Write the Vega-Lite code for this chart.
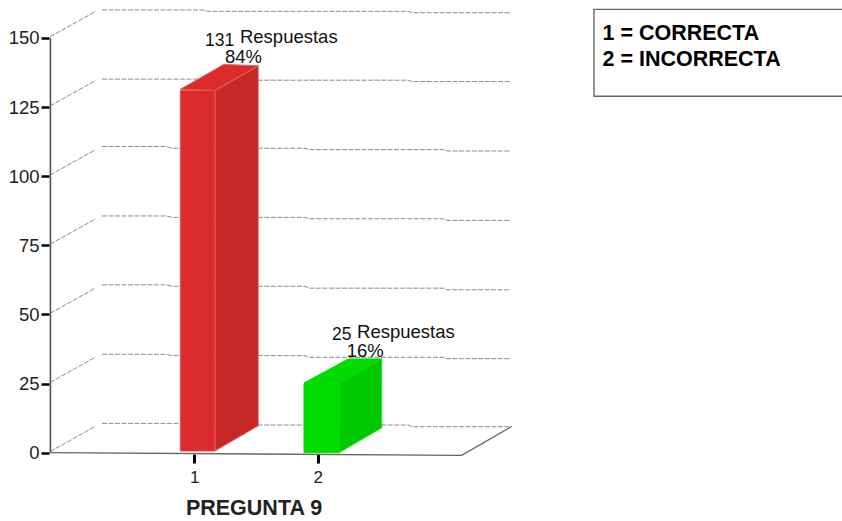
{
  "$schema": "https://vega.github.io/schema/vega-lite/v6.json",
  "autosize": {"type": "none"},
  "padding": {"left": 49, "top": 0, "right": 0, "bottom": 67},
  "width": 793,
  "height": 454,
  "background": "white",
  "config": {"view": {"stroke": null}, "font": "Liberation Sans"},
  "datasets": {
    "reticula": [
      {"trazo":"150d","x":-0.169,"v":150.4},{"trazo":"150d","x":0.201,"v":159.6},
      {"trazo":"125d","x":-0.169,"v":125.4},{"trazo":"125d","x":0.201,"v":134.6},
      {"trazo":"100d","x":-0.169,"v":100.4},{"trazo":"100d","x":0.201,"v":109.6},
      {"trazo":"75d","x":-0.169,"v":75.4},{"trazo":"75d","x":0.201,"v":84.6},
      {"trazo":"50d","x":-0.169,"v":50.4},{"trazo":"50d","x":0.201,"v":59.6},
      {"trazo":"25d","x":-0.169,"v":25.4},{"trazo":"25d","x":0.201,"v":34.6},
      {"trazo":"0d","x":-0.169,"v":0.4},{"trazo":"0d","x":0.201,"v":9.6},

      {"trazo":"150h","x":0.252,"v":160.1},{"trazo":"150h","x":1.070,"v":160.1},{"trazo":"150h","x":1.111,"v":159.6},{"trazo":"150h","x":2.732,"v":159.6},{"trazo":"150h","x":2.764,"v":159.1},{"trazo":"150h","x":3.566,"v":159.1},
      {"trazo":"125h","x":0.252,"v":135.1},{"trazo":"125h","x":1.070,"v":135.1},{"trazo":"125h","x":1.111,"v":134.7},{"trazo":"125h","x":2.732,"v":134.7},{"trazo":"125h","x":2.764,"v":134.2},{"trazo":"125h","x":3.566,"v":134.2},
      {"trazo":"100h","x":0.252,"v":110.7},{"trazo":"100h","x":0.771,"v":110.7},{"trazo":"100h","x":0.819,"v":110.1},{"trazo":"100h","x":1.897,"v":110.1},{"trazo":"100h","x":1.929,"v":109.6},{"trazo":"100h","x":3.015,"v":109.6},{"trazo":"100h","x":3.048,"v":109.1},{"trazo":"100h","x":3.566,"v":109.1},
      {"trazo":"75h","x":0.252,"v":85.6},{"trazo":"75h","x":0.771,"v":85.6},{"trazo":"75h","x":0.819,"v":85.1},{"trazo":"75h","x":1.897,"v":85.1},{"trazo":"75h","x":1.929,"v":84.6},{"trazo":"75h","x":3.015,"v":84.6},{"trazo":"75h","x":3.048,"v":84.0},{"trazo":"75h","x":3.566,"v":84.0},
      {"trazo":"50h","x":0.252,"v":60.7},{"trazo":"50h","x":0.771,"v":60.7},{"trazo":"50h","x":0.819,"v":60.2},{"trazo":"50h","x":1.897,"v":60.2},{"trazo":"50h","x":1.929,"v":59.5},{"trazo":"50h","x":3.015,"v":59.5},{"trazo":"50h","x":3.048,"v":58.9},{"trazo":"50h","x":3.566,"v":58.9},
      {"trazo":"25h","x":0.252,"v":35.6},{"trazo":"25h","x":0.771,"v":35.6},{"trazo":"25h","x":0.819,"v":35.1},{"trazo":"25h","x":1.897,"v":35.1},{"trazo":"25h","x":1.929,"v":34.5},{"trazo":"25h","x":3.015,"v":34.5},{"trazo":"25h","x":3.048,"v":34.0},{"trazo":"25h","x":3.566,"v":34.0},
      {"trazo":"0h","x":0.252,"v":10.6},{"trazo":"0h","x":1.070,"v":10.6},{"trazo":"0h","x":1.111,"v":10.0},{"trazo":"0h","x":2.732,"v":10.0},{"trazo":"0h","x":2.764,"v":9.4},{"trazo":"0h","x":3.566,"v":9.4}
    ],
    "eje": [
      {"x":-0.166,"desde":150,"hasta":0}
    ],
    "piso": [
      {"orden":1,"x":-0.173,"v":0},{"orden":2,"x":3.167,"v":-0.94},{"orden":3,"x":3.572,"v":9.48}
    ],
    "caras": [
      {"cara":"lado1","x":1.168,"alto":131,"bajo":0.6},{"cara":"lado1","x":1.519,"alto":139.9,"bajo":9.7},
      {"cara":"tapa1","x":0.887,"alto":131.4,"bajo":131.4},{"cara":"tapa1","x":1.168,"alto":138.6,"bajo":131},{"cara":"tapa1","x":1.238,"alto":140.4,"bajo":132.8},{"cara":"tapa1","x":1.519,"alto":139.9,"bajo":139.9},
      {"cara":"lado2","x":2.173,"alto":25,"bajo":0},{"cara":"lado2","x":2.519,"alto":33.9,"bajo":9},
      {"cara":"tapa2","x":1.889,"alto":25.2,"bajo":25.2},{"cara":"tapa2","x":2.173,"alto":32.1,"bajo":25},{"cara":"tapa2","x":2.248,"alto":33.9,"bajo":26.9},{"cara":"tapa2","x":2.519,"alto":33.9,"bajo":33.9}
    ],
    "barras": [
      {"pregunta":1,"cara":"frente1","respuesta":"CORRECTA","respuestas":131,"porcentaje":84,"base":0.6,"izq":0.887,"der":1.168},
      {"pregunta":2,"cara":"frente2","respuesta":"INCORRECTA","respuestas":25,"porcentaje":16,"base":0,"izq":1.889,"der":2.173}
    ],
    "cifras": [
      {"texto":"131","x":1.087,"v":147.1},
      {"texto":"25","x":2.116,"v":40.8}
    ],
    "rotulos": [
      {"texto":"Respuestas","x":1.370,"v":148.1},
      {"texto":"84%","x":1.249,"v":140.8},
      {"texto":"Respuestas","x":2.319,"v":41.4},
      {"texto":"16%","x":2.235,"v":34.5}
    ],
    "clave": [
      {"texto":"1 = CORRECTA","x":4.308,"v":149.2},
      {"texto":"2 = INCORRECTA","x":4.308,"v":140}
    ],
    "recuadro": [
      {"x":4.239,"x2":6.31,"v":160.3,"v2":128.9}
    ]
  },
  "layer": [
    {
      "data": {"name": "reticula"},
      "mark": {"type": "line", "stroke": "#8c8c8c", "strokeWidth": 1, "strokeDash": [5, 1.5], "interpolate": "linear"},
      "encoding": {
        "x": {
          "field": "x", "type": "quantitative",
          "scale": {"domain": [-0.1775, 6.249], "nice": false, "zero": false},
          "axis": {
            "orient": "bottom", "values": [1, 2], "format": "d", "domain": false, "grid": false,
            "tickSize": 9, "tickWidth": 3, "tickColor": "black",
            "labelFontSize": 17, "labelColor": "#222", "labelPadding": 6, "labelFont": "Liberation Sans", "labelFontWeight": "normal",
            "title": "PREGUNTA 9", "titleFontSize": 21.5, "titleFontWeight": "bold", "titleColor": "#222", "titleFont": "Liberation Sans",
            "titleX": 204.5, "titleY": 60, "titleAlign": "center", "titleBaseline": "alphabetic"
          }
        },
        "y": {
          "field": "v", "type": "quantitative",
          "scale": {"domain": [-0.47, 163.7], "nice": false, "zero": false},
          "axis": {
            "orient": "left", "values": [0, 25, 50, 75, 100, 125, 150], "domain": false, "grid": false,
            "tickSize": 8, "tickWidth": 2.5, "tickColor": "black",
            "labelFontSize": 18.5, "labelColor": "#222", "labelPadding": 2, "labelFont": "Liberation Sans",
            "title": null
          }
        },
        "detail": {"field": "trazo"}
      }
    },
    {
      "data": {"name": "eje"},
      "mark": {"type": "rule", "stroke": "#555555", "strokeWidth": 1.6},
      "encoding": {
        "x": {"field": "x", "type": "quantitative"},
        "y": {"field": "desde", "type": "quantitative"},
        "y2": {"field": "hasta"}
      }
    },
    {
      "data": {"name": "piso"},
      "mark": {"type": "line", "stroke": "#666666", "strokeWidth": 1.3},
      "encoding": {
        "x": {"field": "x", "type": "quantitative"},
        "y": {"field": "v", "type": "quantitative"},
        "order": {"field": "orden"}
      }
    },
    {
      "data": {"name": "caras"},
      "mark": {"type": "area", "strokeWidth": 1},
      "encoding": {
        "x": {"field": "x", "type": "quantitative"},
        "y": {"field": "alto", "type": "quantitative", "stack": null},
        "y2": {"field": "bajo"},
        "fill": {
          "field": "cara", "type": "nominal", "legend": null,
          "scale": {"domain": ["lado1", "tapa1", "frente1", "lado2", "tapa2", "frente2"], "range": ["#C62727", "#DA2C2C", "#DA2C2C", "#00C800", "#00DC00", "#00DC00"]}
        },
        "stroke": {
          "field": "cara", "type": "nominal", "legend": null,
          "scale": {"domain": ["lado1", "tapa1", "frente1", "lado2", "tapa2", "frente2"], "range": ["#E88080", "#E06060", "#E45050", "#30D830", "#00DC00", "#00DC00"]}
        }
      }
    },
    {
      "data": {"name": "barras"},
      "mark": {"type": "rect", "strokeWidth": 1},
      "encoding": {
        "x": {"field": "izq", "type": "quantitative"},
        "x2": {"field": "der"},
        "y": {"field": "respuestas", "type": "quantitative", "stack": null},
        "y2": {"field": "base"},
        "fill": {"field": "cara", "type": "nominal", "legend": null},
        "stroke": {"field": "cara", "type": "nominal", "legend": null}
      }
    },
    {
      "data": {"name": "cifras"},
      "mark": {"type": "text", "align": "left", "baseline": "alphabetic", "fontSize": 17.5, "font": "Liberation Sans", "color": "#111"},
      "encoding": {
        "x": {"field": "x", "type": "quantitative"},
        "y": {"field": "v", "type": "quantitative"},
        "text": {"field": "texto"}
      }
    },
    {
      "data": {"name": "rotulos"},
      "mark": {"type": "text", "align": "left", "baseline": "alphabetic", "fontSize": 18.5, "font": "Liberation Sans", "color": "#111"},
      "encoding": {
        "x": {"field": "x", "type": "quantitative"},
        "y": {"field": "v", "type": "quantitative"},
        "text": {"field": "texto"}
      }
    },
    {
      "data": {"name": "recuadro"},
      "mark": {"type": "rect", "fill": "white", "stroke": "#666666", "strokeWidth": 1.4},
      "encoding": {
        "x": {"field": "x", "type": "quantitative"},
        "x2": {"field": "x2"},
        "y": {"field": "v", "type": "quantitative", "stack": null},
        "y2": {"field": "v2"}
      }
    },
    {
      "data": {"name": "clave"},
      "mark": {"type": "text", "align": "left", "baseline": "alphabetic", "fontSize": 21.5, "fontWeight": "bold", "font": "Liberation Sans", "color": "black"},
      "encoding": {
        "x": {"field": "x", "type": "quantitative"},
        "y": {"field": "v", "type": "quantitative"},
        "text": {"field": "texto"}
      }
    }
  ]
}
